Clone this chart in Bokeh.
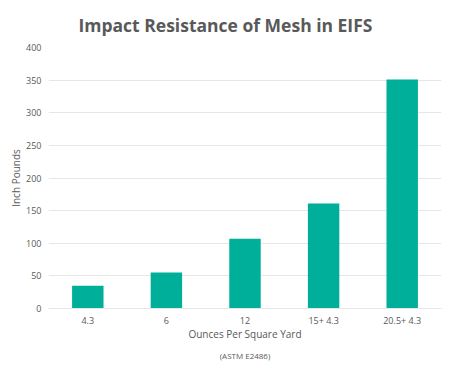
from bokeh.plotting import figure
from bokeh.models import Title, ColumnDataSource
from bokeh.embed import file_html
from bokeh.resources import INLINE

categories = ["4.3", "6", "12", "15+ 4.3", "20.5+ 4.3"]
values = [35, 55, 107, 161, 351]
y_ticks = [0, 50, 100, 150, 200, 250, 300, 350, 400]

FONT = "Open Sans"
TXT = "#595959"
BAR = "#00AF99"

src = ColumnDataSource(dict(cat=categories, val=values))

p = figure(x_range=categories, y_range=(0, 400), width=463, height=378,
           output_backend="svg", toolbar_location=None,
           min_border_left=48, min_border_right=22, min_border_top=46, min_border_bottom=70)

p.vbar(x="cat", top="val", width=0.4, source=src, color=BAR, line_color=None)

p.title.text = "Impact Resistance of Mesh in EIFS"
p.title.text_font = FONT
p.title.text_font_size = "17.5px"
p.title.text_font_style = "bold"
p.title.text_color = TXT
p.title.align = "left"
p.title.offset = 30
p.title.standoff = 21

p.outline_line_color = None
p.xgrid.grid_line_color = None
p.ygrid.grid_line_color = "#E6E6E6"
p.ygrid.grid_line_width = 1
p.yaxis.ticker = y_ticks

for ax in (p.xaxis[0], p.yaxis[0]):
    ax.axis_line_color = None
    ax.major_tick_line_color = None
    ax.minor_tick_line_color = None
    ax.major_tick_out = 0
    ax.major_tick_in = 0
    ax.minor_tick_out = 0
    ax.minor_tick_in = 0
    ax.major_label_text_font = FONT
    ax.major_label_text_font_size = "9px"
    ax.major_label_text_color = TXT
    ax.axis_label_text_font = FONT
    ax.axis_label_text_font_size = "10px"
    ax.axis_label_text_font_style = "normal"
    ax.axis_label_text_color = TXT

p.xaxis.axis_line_color = "#E6E6E6"
p.yaxis.axis_label = "Inch Pounds"
p.yaxis.major_label_standoff = 7
p.yaxis.axis_label_standoff = 0
p.xaxis.axis_label = "Ounces Per Square Yard"
p.xaxis.major_label_standoff = 5
p.xaxis.axis_label_standoff = -3

note = Title(text="(ASTM E2486)", align="center", text_font=FONT,
             text_font_size="8px", text_font_style="normal", text_color=TXT,
             standoff=9)
p.add_layout(note, "below")

open("out.html", "w").write(file_html(p, INLINE))
